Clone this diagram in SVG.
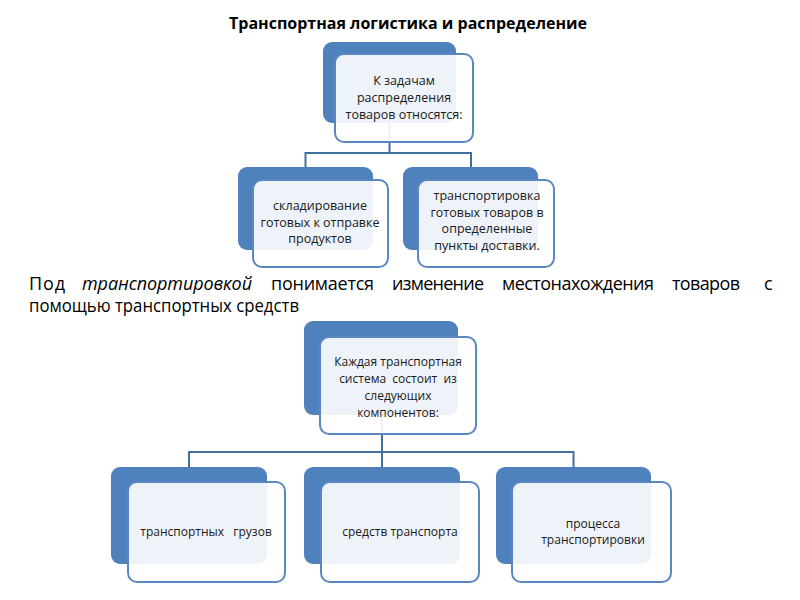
<svg xmlns="http://www.w3.org/2000/svg" width="800" height="600" viewBox="0 0 800 600">
<style>
.back{fill:#4f81bd;}
.front{fill:#ffffff;fill-opacity:0.9;stroke:#5b87c0;stroke-width:2;}
.t{font-family:"Open Sans","Noto Sans","DejaVu Sans",sans-serif;font-size:12.5px;fill:#1a1a1a;text-anchor:middle;}
.s{font-size:12px;}
.p{font-family:"Open Sans","Noto Sans","DejaVu Sans",sans-serif;font-size:18px;fill:#000;}
.conn{fill:none;stroke:#41709f;stroke-width:2;}
</style>
<rect width="800" height="600" fill="#ffffff"/>
<text x="408" y="29" font-family="'Open Sans','Noto Sans','DejaVu Sans',sans-serif" font-size="16" font-weight="bold" text-anchor="middle" fill="#000">Транспортная логистика и распределение</text>

<g id="connectors">
<path class="conn" d="M389.5 123V153M305.5 153H471M305.5 152V167M471 152V167"/>
<path class="conn" d="M382 415V452M189 452H573.5M189 451V467M382 451V467M573.5 451V467"/>
</g>

<g id="node-top">
<rect class="back" x="323" y="42" width="133" height="81" rx="9"/>
<rect class="front" x="335" y="54" width="138" height="88" rx="9"/>
<text class="t" x="404" y="85">К задачам</text>
<text class="t" x="404" y="102">распределения</text>
<text class="t" x="404" y="119">товаров относятся:</text>
</g>

<g id="node-storage">
<rect class="back" x="238" y="167" width="135" height="83" rx="9"/>
<rect class="front" x="253" y="180" width="135" height="87" rx="9"/>
<text class="t" x="320" y="210">складирование</text>
<text class="t" x="320" y="226.5">готовых к отправке</text>
<text class="t" x="320" y="243">продуктов</text>
</g>

<g id="node-transport">
<rect class="back" x="403" y="167" width="135" height="83" rx="9"/>
<rect class="front" x="418" y="180" width="136" height="87" rx="9"/>
<text class="t" x="487" y="200">транспортировка</text>
<text class="t" x="487" y="216.5">готовых товаров в</text>
<text class="t" x="487" y="233">определенные</text>
<text class="t" x="487" y="249.5">пункты доставки.</text>
</g>

<text class="p" y="290"><tspan x="29" textLength="36">Под</tspan><tspan x="82" font-style="italic" textLength="170">транспортировкой</tspan><tspan x="271" textLength="103">понимается</tspan><tspan x="392" textLength="92">изменение</tspan><tspan x="502" textLength="152">местонахождения</tspan><tspan x="672" textLength="68">товаров</tspan><tspan x="764">с</tspan></text>
<text class="p" x="29" y="312" textLength="270" lengthAdjust="spacingAndGlyphs">помощью транспортных средств</text>

<g id="node-system">
<rect class="back" x="304" y="321" width="154" height="94" rx="9"/>
<rect class="front" x="320" y="337" width="156" height="97" rx="9"/>
<text class="t s" x="398" y="366">Каждая транспортная</text>
<text class="t s" x="398" y="383">система&#160; состоит&#160; из</text>
<text class="t s" x="398" y="400">следующих</text>
<text class="t s" x="398" y="417">компонентов:</text>
</g>

<g id="node-cargo">
<rect class="back" x="111" y="467" width="156" height="97" rx="9"/>
<rect class="front" x="128" y="482" width="157" height="100" rx="9"/>
<text class="t s" x="206" y="536">транспортных&#160;&#160; грузов</text>
</g>

<g id="node-vehicles">
<rect class="back" x="304" y="467" width="156" height="97" rx="9"/>
<rect class="front" x="321" y="482" width="158" height="100" rx="9"/>
<text class="t s" x="400" y="536">средств транспорта</text>
</g>

<g id="node-process">
<rect class="back" x="496" y="467" width="155" height="97" rx="9"/>
<rect class="front" x="512" y="482" width="159" height="100" rx="9"/>
<text class="t s" x="593" y="528">процесса</text>
<text class="t s" x="593" y="544">транспортировки</text>
</g>
</svg>
